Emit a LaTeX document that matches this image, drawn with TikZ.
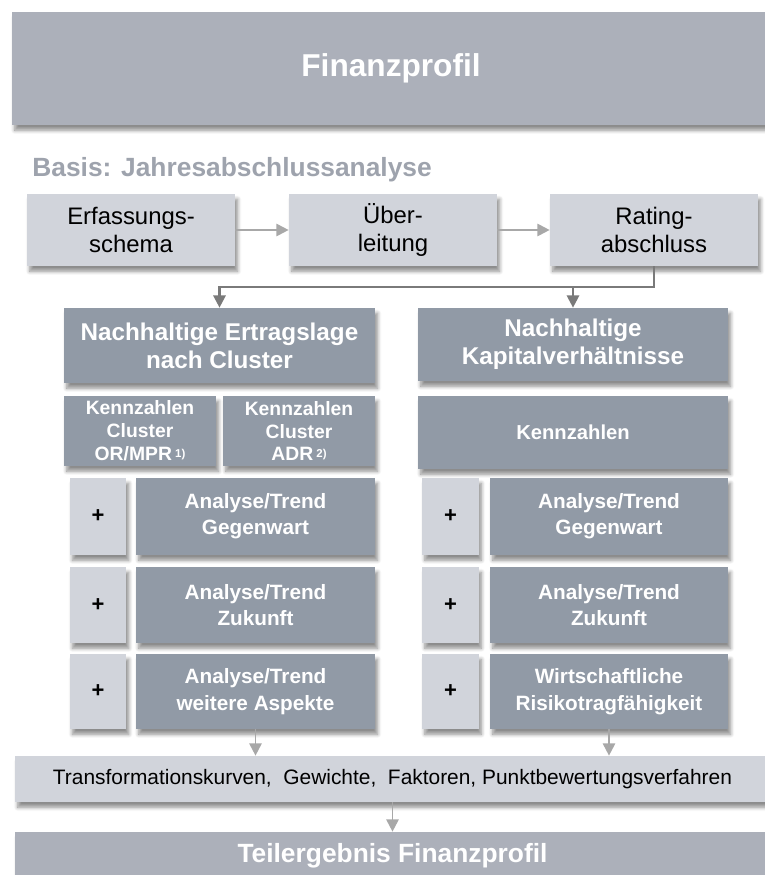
\documentclass[tikz,border=0pt]{standalone}
\usepackage{fontspec}
\setmainfont{Liberation Sans}
\usepackage{xcolor}
\usepackage{tikz}
\usetikzlibrary{shadows.blur,arrows.meta}

\definecolor{kopfgrau}{HTML}{ACB0BA}
\definecolor{blockgrau}{HTML}{919AA6}
\definecolor{feldgrau}{HTML}{D1D4DB}
\definecolor{titelgrau}{HTML}{9EA3AD}
\definecolor{pfeilgrau}{HTML}{A8A8A8}
\definecolor{liniengrau}{HTML}{7A7A7A}

\newcommand{\fussnote}[1]{\,{\fontsize{6.5}{7}\selectfont\raisebox{0.6ex}{#1}}}

\tikzset{
  kasten/.style={rectangle, inner sep=0pt, align=center,
    blur shadow={shadow xshift=1.5pt, shadow yshift=-3pt, shadow blur steps=6, shadow opacity=45}},
  kopf/.style={kasten, fill=kopfgrau, text=white},
  schritt/.style={kasten, fill=feldgrau, minimum width=4.16cm, minimum height=1.44cm,
    font=\fontsize{13.6}{16}\selectfont},
  block/.style={kasten, fill=blockgrau, text=white, font=\bfseries\fontsize{11.8}{15}\selectfont},
  plusfeld/.style={kasten, fill=feldgrau, minimum width=1.13cm, font=\bfseries\fontsize{12.5}{14}\selectfont},
  verbinder/.style={liniengrau, line width=1.3pt, -{Triangle[length=7pt,width=7pt]}},
  fluss/.style={pfeilgrau, line width=1.1pt, -{Triangle[length=7pt,width=7pt]}}
}

\begin{document}
\begin{tikzpicture}[x=0.02cm, y=-0.02cm]
  \useasboundingbox (0,0) rectangle (764,875);

  \node[kopf, minimum width=15.16cm, minimum height=2.26cm,
    font=\bfseries\fontsize{18}{21}\selectfont] (finanzprofil) at (391,68.5) {Finanzprofil};

  \node[anchor=west, inner sep=0pt, text=titelgrau, font=\bfseries\fontsize{15}{18}\selectfont]
    (basis) at (32,170) {Basis: Jahresabschlussanalyse};

  % Schritte der Jahresabschlussanalyse
  \node[schritt] (erfassung) at (131,230) {Erfassungs-\\schema};
  \node[schritt] (ueberleitung) at (393,230) {Über-\\leitung};
  \node[schritt] (rating) at (654,230) {Rating-\\abschluss};
  \draw[fluss] (erfassung) -- (ueberleitung);
  \draw[fluss] (ueberleitung) -- (rating);

  % Ertragslage und Kapitalverhaeltnisse
  \node[block, minimum width=6.22cm, minimum height=1.5cm, font=\bfseries\fontsize{13.8}{16}\selectfont]
    (ertrag) at (219.5,345.5) {Nachhaltige Ertragslage\\nach Cluster};
  \node[block, minimum width=6.2cm, minimum height=1.46cm, font=\bfseries\fontsize{13.8}{16}\selectfont]
    (kapital) at (573,344.5) {Nachhaltige\\Kapitalverhältnisse};

  \coordinate (knick) at (ertrag.north |- 0,287);
  \draw[verbinder] (rating.south) |- (knick) -- (ertrag.north);
  \draw[verbinder] (kapital.north |- knick) -- (kapital.north);

  \node[block, minimum width=3.04cm, minimum height=1.4cm, font=\bfseries\fontsize{11}{13}\selectfont]
    (kzor) at (140,431) {Kennzahlen\\Cluster\\OR/MPR\fussnote{1)}};
  \node[block, minimum width=3.04cm, minimum height=1.4cm, font=\bfseries\fontsize{11}{13}\selectfont]
    (kzadr) at (299,431) {Kennzahlen\\Cluster\\ADR\fussnote{2)}};
  \node[block, minimum width=6.2cm, minimum height=1.46cm, font=\bfseries\fontsize{11.5}{14}\selectfont]
    (kzkapital) at (573,432.5) {Kennzahlen};

  % Analysen links
  \node[plusfeld, minimum height=1.54cm] (plusl1) at (98,516.5) {+};
  \node[block, minimum width=4.78cm, minimum height=1.54cm] (anal1) at (255.5,516.5) {Analyse/Trend\\Gegenwart};
  \node[plusfeld, minimum height=1.52cm] (plusl2) at (98,605) {+};
  \node[block, minimum width=4.78cm, minimum height=1.52cm] (anal2) at (255.5,605) {Analyse/Trend\\Zukunft};
  \node[plusfeld, minimum height=1.5cm] (plusl3) at (98,691.5) {+};
  \node[block, minimum width=4.78cm, minimum height=1.5cm] (anal3) at (255.5,691.5) {Analyse/Trend\\weitere Aspekte};

  % Analysen rechts
  \node[plusfeld, minimum height=1.54cm] (plusr1) at (450.5,516.5) {+};
  \node[block, minimum width=4.76cm, minimum height=1.54cm] (anar1) at (609,516.5) {Analyse/Trend\\Gegenwart};
  \node[plusfeld, minimum height=1.52cm] (plusr2) at (450.5,605) {+};
  \node[block, minimum width=4.76cm, minimum height=1.52cm] (anar2) at (609,605) {Analyse/Trend\\Zukunft};
  \node[plusfeld, minimum height=1.5cm] (plusr3) at (450.5,691.5) {+};
  \node[block, minimum width=4.76cm, minimum height=1.5cm] (anar3) at (609,691.5) {Wirtschaftliche\\Risikotragfähigkeit};

  % Bewertung und Ergebnis
  \node[kasten, fill=feldgrau, minimum width=15.1cm, minimum height=0.92cm, font=\fontsize{11.9}{14}\selectfont]
    (transformation) at (392.5,779) {Transformationskurven,\ \ Gewichte,\ \ Faktoren, Punktbewertungsverfahren};
  \node[kopf, minimum width=15.1cm, minimum height=0.96cm, font=\bfseries\fontsize{15}{18}\selectfont]
    (teilergebnis) at (392.5,856) {Teilergebnis Finanzprofil};

  \draw[fluss] (anal3.south) -- (anal3.south |- transformation.north);
  \draw[fluss] (anar3.south) -- (anar3.south |- transformation.north);
  \draw[fluss] (transformation.south) -- (teilergebnis.north);
\end{tikzpicture}
\end{document}
